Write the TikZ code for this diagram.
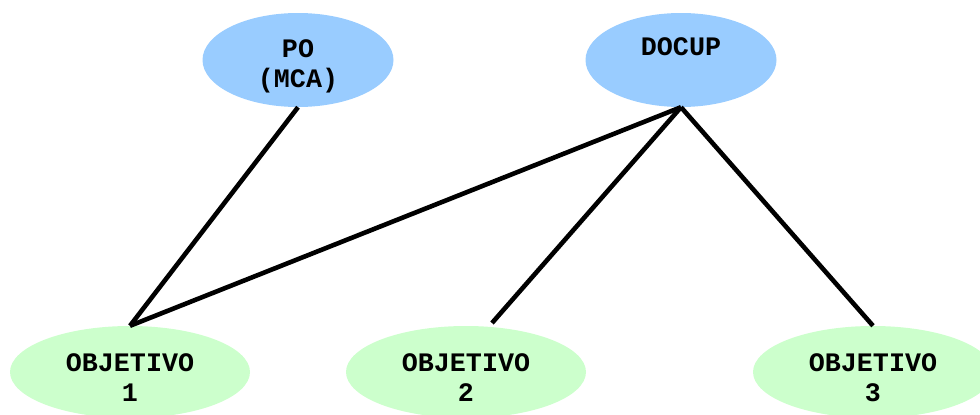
\documentclass[tikz,border=0pt]{standalone}
\usepackage{fontspec}
\setmonofont{Liberation Mono}
\usetikzlibrary{shapes.geometric}
\definecolor{topblue}{HTML}{99CCFF}
\definecolor{objgreen}{HTML}{CCFFCC}
\tikzset{
  topell/.style={ellipse, fill=topblue, draw=none, minimum width=191pt, minimum height=94pt, inner sep=0pt},
  objell/.style={ellipse, fill=objgreen, draw=none, minimum width=240pt, minimum height=92pt, inner sep=0pt},
  lbl/.style={font=\ttfamily\bfseries\fontsize{26.7}{30}\selectfont, align=center, inner sep=0pt},
  conn/.style={line width=4.6pt, black}
}
\begin{document}
\begin{tikzpicture}[x=1pt,y=-1pt]
\useasboundingbox (0,0) rectangle (980,415);
\node[topell] (po) at (298,60) {};
\node[topell] (docup) at (681,60) {};
\node[objell] (obj1) at (130,372) {};
\node[objell] (obj2) at (466,372) {};
\node[objell] (obj3) at (873,372) {};
\node[lbl] (tpo) at (298,66) {PO\\(MCA)};
\node[lbl, anchor=base] (tdocup) at (681,55) {DOCUP};
\node[lbl] (t1) at (130,378) {OBJETIVO\\1};
\node[lbl] (t2) at (466,378) {OBJETIVO\\2};
\node[lbl] (t3) at (873,378) {OBJETIVO\\3};
\coordinate (o2end) at (492,323);
\draw[conn] (po.south) -- (obj1.north);
\draw[conn] (docup.south) -- (obj1.north);
\draw[conn] (docup.south) -- (o2end);
\draw[conn] (docup.south) -- (obj3.north);
\end{tikzpicture}
\end{document}
